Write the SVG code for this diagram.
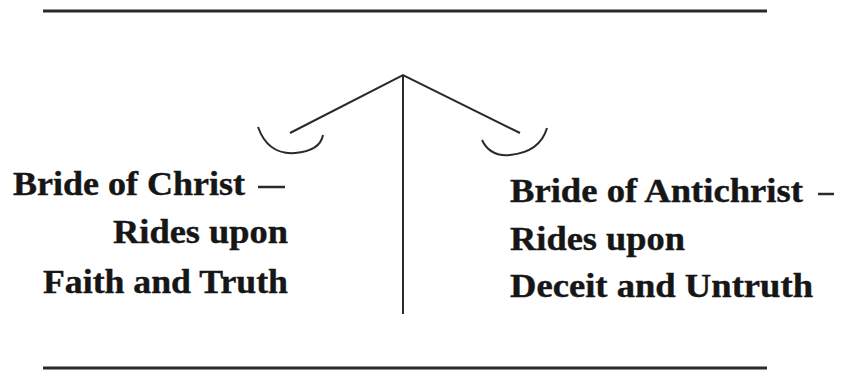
<svg xmlns="http://www.w3.org/2000/svg" width="848" height="381" viewBox="0 0 848 381">
<style>
text{font-family:'Liberation Serif','Times New Roman',Times,serif;font-weight:700;font-size:33px;fill:#161616;stroke:#161616;stroke-width:0.4}
.ln{stroke:#2a2a2a;fill:none;stroke-linecap:butt}
</style>
<rect width="848" height="381" fill="#fff"/>
<g id="rules">
<line class="ln" x1="43" y1="11" x2="767" y2="11" stroke-width="3"/>
<line class="ln" x1="43" y1="368" x2="767" y2="368" stroke-width="3"/>
</g>
<g id="scale">
<line class="ln" x1="403" y1="75" x2="403" y2="314" stroke-width="2"/>
<polyline class="ln" points="290,133 403,75 520,133" stroke-width="2"/>
<path class="ln" d="M258,127 Q268,155 295,153 Q320,151 323,135" stroke-width="2"/>
<path class="ln" d="M482,140 Q490,157 510,155 Q540,152 547,128" stroke-width="2"/>
</g>
<g id="left-label">
<text x="13" y="195" textLength="232" lengthAdjust="spacingAndGlyphs">Bride of Christ</text>
<line class="ln" x1="258" y1="187" x2="285" y2="187" stroke-width="2.5"/>
<text x="113" y="243" textLength="175" lengthAdjust="spacingAndGlyphs">Rides upon</text>
<text x="43" y="293" textLength="245" lengthAdjust="spacingAndGlyphs">Faith and Truth</text>
</g>
<g id="right-label">
<text x="510" y="202" textLength="293" lengthAdjust="spacingAndGlyphs">Bride of Antichrist</text>
<line class="ln" x1="818" y1="194" x2="834" y2="194" stroke-width="2.5"/>
<text x="510" y="250" textLength="175" lengthAdjust="spacingAndGlyphs">Rides upon</text>
<text x="510" y="297" textLength="303" lengthAdjust="spacingAndGlyphs">Deceit and Untruth</text>
</g>
</svg>
